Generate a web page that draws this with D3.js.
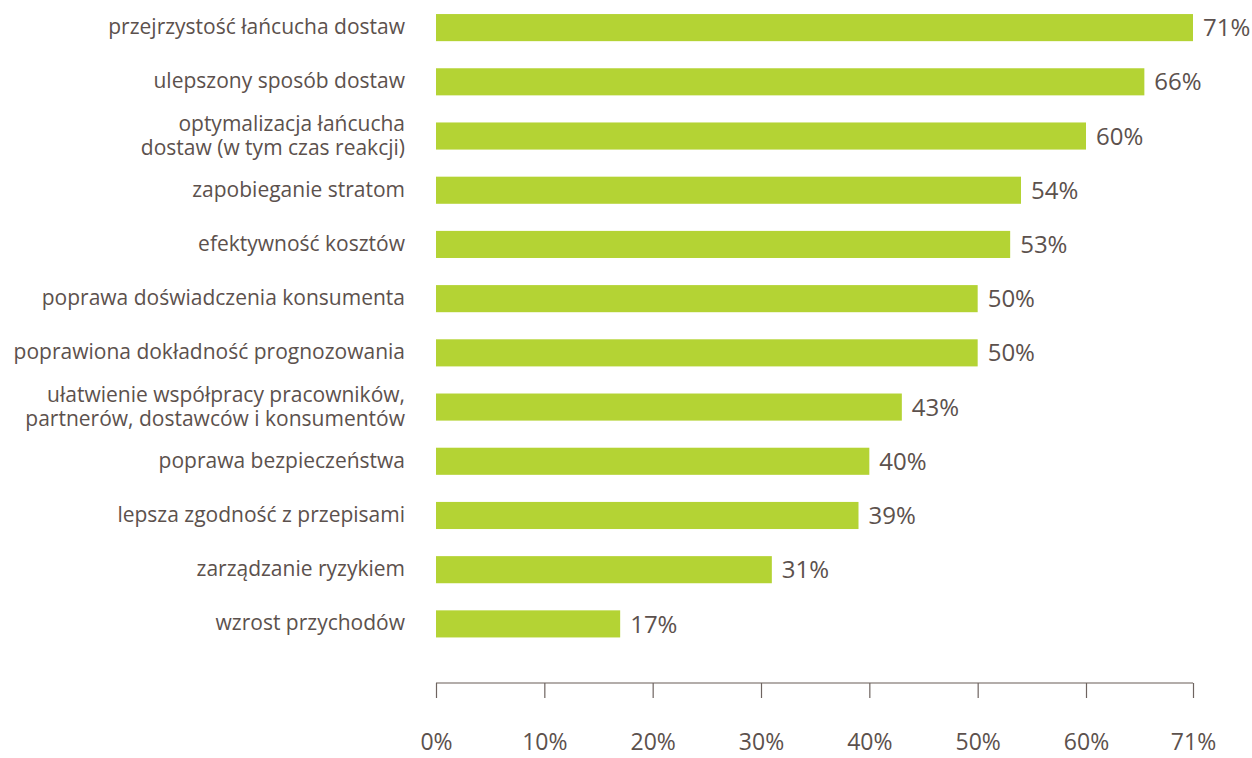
<!DOCTYPE html>
<html>
<head>
<meta charset="utf-8">
<script src="https://cdn.jsdelivr.net/npm/d3@7"></script>
<style>
  html, body { margin: 0; padding: 0; background: #ffffff; }
  svg { display: block; }
  text { fill: #5c514d; }
</style>
</head>
<body>
<svg id="chart" width="1252" height="758"></svg>
<script>
// Category labels (lines split where the label wraps)
const categories = [
  ["przejrzystość łańcucha dostaw"],
  ["ulepszony sposób dostaw"],
  ["optymalizacja łańcucha", "dostaw (w tym czas reakcji)"],
  ["zapobieganie stratom"],
  ["efektywność kosztów"],
  ["poprawa doświadczenia konsumenta"],
  ["poprawiona dokładność prognozowania"],
  ["ułatwienie współpracy pracowników,", "partnerów, dostawców i konsumentów"],
  ["poprawa bezpieczeństwa"],
  ["lepsza zgodność z przepisami"],
  ["zarządzanie ryzykiem"],
  ["wzrost przychodów"]
];
// Share of respondents, percent
const values = [71, 66, 60, 54, 53, 50, 50, 43, 40, 39, 31, 17];
// Axis tick values and their labels
const tickValues = [0, 10, 20, 30, 40, 50, 60, 71];
const tickLabels = ["0%", "10%", "20%", "30%", "40%", "50%", "60%", "71%"];

const svg = d3.select("#chart");
const FONT = "'Open Sans', 'Noto Sans', sans-serif";
const BAR = "#b4d334";
const INK = "#5c514d";

// The axis runs in even 10-point steps up to 60, then closes at the 71% maximum
const x = d3.scaleLinear().domain([0, 60, 71]).range([436, 1086, 1193]);
const y = d3.scaleBand()
  .domain(d3.range(categories.length))
  .range([0.5, 651])
  .paddingInner(0.5)
  .paddingOuter(0.25);

// Bars
svg.append("g").selectAll("rect")
  .data(values)
  .join("rect")
  .attr("x", x(0))
  .attr("y", (d, i) => y(i))
  .attr("width", d => x(d) - x(0))
  .attr("height", y.bandwidth())
  .attr("fill", BAR);

// Value labels
svg.append("g").selectAll("text")
  .data(values)
  .join("text")
  .attr("x", d => x(d) + 10)
  .attr("y", (d, i) => y(i) + y.bandwidth() / 2)
  .attr("dy", "0.36em")
  .style("font-family", FONT)
  .style("font-size", "24px")
  .text(d => d + "%");

// Category labels, right aligned
const lineH = 24;
const labels = svg.append("g").selectAll("text")
  .data(categories)
  .join("text")
  .attr("x", 405)
  .attr("y", (d, i) => y(i) + y.bandwidth() / 2 - (d.length - 1) * lineH / 2 - 1)
  .attr("text-anchor", "end")
  .style("font-family", FONT)
  .style("font-size", "21px");
labels.selectAll("tspan")
  .data(d => d)
  .join("tspan")
  .attr("x", 405)
  .attr("dy", (d, j) => j === 0 ? "0.36em" : lineH)
  .text(d => d);

// Bottom axis
const axis = d3.axisBottom(x)
  .tickValues(tickValues)
  .tickFormat((d, i) => tickLabels[i])
  .tickSize(15)
  .tickSizeOuter(0)
  .tickPadding(12);

const gAxis = svg.append("g")
  .attr("transform", "translate(0,683)")
  .call(axis);
gAxis.select(".domain").attr("stroke", "#9a928e").attr("stroke-width", 1.5)
  .attr("d", `M${x(0)},0H${x(71)}`);
gAxis.selectAll(".tick line").attr("stroke", "#6e6460").attr("stroke-width", 1.2).attr("y1", 0);
gAxis.selectAll(".tick text")
  .attr("fill", INK)
  .attr("y", 59)
  .attr("dy", "0.36em")
  .style("font-family", FONT)
  .style("font-size", "23px");
</script>
</body>
</html>
